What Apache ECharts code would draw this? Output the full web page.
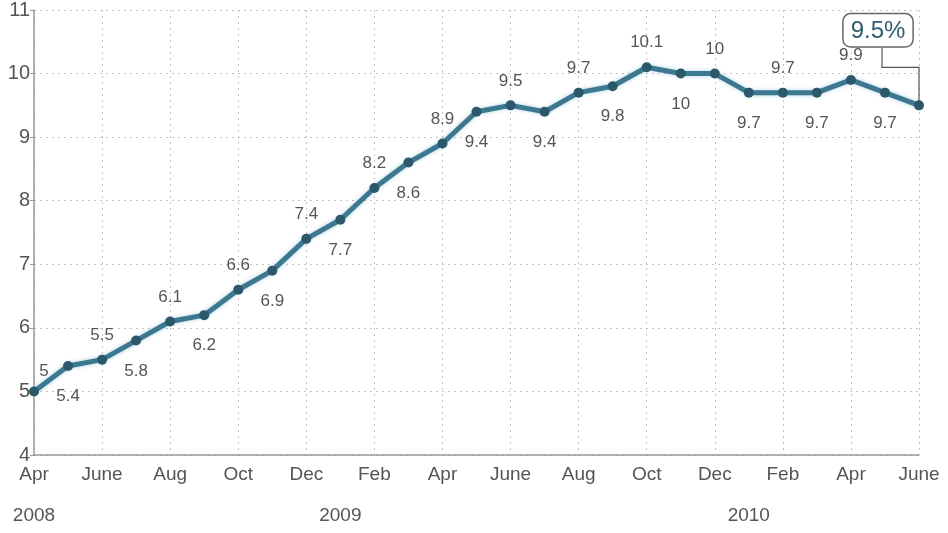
<!DOCTYPE html>
<html>
<head>
<meta charset="utf-8">
<script src="https://cdn.jsdelivr.net/npm/echarts@6/dist/echarts.min.js"></script>
<style>
  html, body { margin: 0; padding: 0; background: #fff; }
  #chart { width: 948px; height: 533px; }
</style>
</head>
<body>
<div id="chart"></div>
<script>
// monthly unemployment rate, Apr 2008 - June 2010
const months = ['Apr', 'May', 'June', 'July', 'Aug', 'Sept', 'Oct', 'Nov', 'Dec',
    'Jan', 'Feb', 'Mar', 'Apr', 'May', 'June', 'July', 'Aug', 'Sept', 'Oct', 'Nov', 'Dec',
    'Jan', 'Feb', 'Mar', 'Apr', 'May', 'June'];
const years = ['2008', '', '', '', '', '', '', '', '',
    '2009', '', '', '', '', '', '', '', '', '', '', '',
    '2010', '', '', '', '', ''];
const rates = [5, 5.4, 5.5, 5.8, 6.1, 6.2, 6.6, 6.9, 7.4, 7.7, 8.2, 8.6, 8.9, 9.4,
    9.5, 9.4, 9.7, 9.8, 10.1, 10, 10, 9.7, 9.7, 9.7, 9.9, 9.7, 9.5];
const yTicks = [4, 5, 6, 7, 8, 9, 10, 11];

const gray = '#555';
const font = 'Liberation Sans';
const lastIdx = rates.length - 1;

const points = rates.map((v, i) => {
    const above = i % 2 === 0;
    const item = {
        value: v,
        label: {
            position: above ? 'top' : 'bottom',
            distance: above ? 11 : 17
        }
    };
    if (i === 0) item.label.offset = [10, 4];
    if (i === lastIdx) {
        item.label = {
            position: 'inside',
            offset: [-41, -75],
            formatter: '{v|' + v + '%}',
            rich: { v: { fontSize: 24, color: '#2f5d70', fontFamily: font } },
            backgroundColor: '#fff',
            borderColor: '#666',
            borderWidth: 1.5,
            borderRadius: 7,
            padding: [5, 7, 3, 7]
        };
    }
    return item;
});

const chart = echarts.init(document.getElementById('chart'));

chart.setOption({
    animation: false,
    grid: { left: 34, right: 29, top: 10, bottom: 78 },
    xAxis: [{
        type: 'category',
        data: months,
        boundaryGap: false,
        axisLine: { lineStyle: { color: '#999', width: 1.5 } },
        axisTick: { show: false },
        axisLabel: {
            interval: 1,
            color: gray,
            fontSize: 19,
            margin: 10,
            fontFamily: font
        },
        splitLine: { show: true, lineStyle: { color: '#c4c4c4', type: [2, 4] } }
    }, {
        type: 'category',
        data: years,
        position: 'bottom',
        offset: 43,
        boundaryGap: false,
        axisLine: { show: false },
        axisTick: { show: false },
        axisLabel: {
            interval: 0,
            color: gray,
            fontSize: 19,
            fontFamily: font
        }
    }],
    yAxis: {
        type: 'value',
        min: yTicks[0],
        max: yTicks[yTicks.length - 1],
        interval: 1,
        axisLine: { show: true, lineStyle: { color: '#999', width: 1.5 } },
        axisTick: { show: true, length: 4, lineStyle: { color: '#999' } },
        axisLabel: {
            color: gray,
            fontSize: 20,
            margin: 4,
            fontFamily: font
        },
        splitLine: { show: true, lineStyle: { color: '#c4c4c4', type: [2, 4] } }
    },
    series: [{
        type: 'line',
        data: points,
        symbol: 'circle',
        symbolSize: 10,
        lineStyle: { color: '#3d7891', width: 5, shadowColor: 'rgba(80,150,190,0.45)', shadowBlur: 4 },
        itemStyle: { color: '#2c586b' },
        label: {
            show: true,
            color: gray,
            fontSize: 17,
            fontFamily: font
        },
        z: 3
    }]
});

// elbow connector from the last point up to its callout box
const end = chart.convertToPixel({ seriesIndex: 0 }, [lastIdx, rates[lastIdx]]);
chart.setOption({
    graphic: [{
        type: 'polyline',
        shape: { points: [[end[0], end[1]], [end[0], end[1] - 38], [end[0] - 37, end[1] - 38], [end[0] - 37, end[1] - 58]] },
        style: { stroke: '#555', lineWidth: 1.2, fill: null },
        z: 1
    }]
});
</script>
</body>
</html>
